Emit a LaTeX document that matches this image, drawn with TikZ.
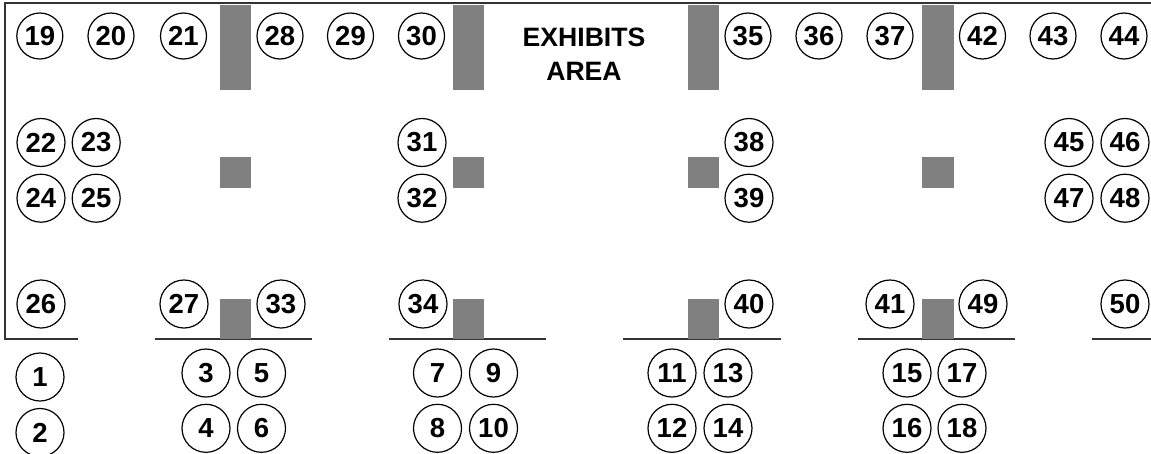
\documentclass[tikz,border=0pt]{standalone}
\usepackage{fontspec}
\setmainfont{Liberation Sans}
\definecolor{pillar}{HTML}{808080}
\definecolor{wall}{HTML}{333333}
\tikzset{
  seat/.style={circle,draw=black,line width=1.2pt,fill=white,minimum size=48pt,inner sep=0pt,font=\fontsize{27.5}{29}\selectfont\bfseries,text=black},
  seatb/.style={seat,minimum size=48pt},
  seatc/.style={seat,minimum size=46pt},
  column/.style={fill=pillar,draw=none},
  wallline/.style={draw=wall,line width=1.3pt},
  caption/.style={font=\fontsize{26.6}{34}\selectfont\bfseries,align=center,text=black}
}
\begin{document}
\begin{tikzpicture}[x=1pt,y=-1pt]
\useasboundingbox (0,0) rectangle (1151,453);
\clip (0,0) rectangle (1151,453);
% walls
\draw[wallline] (1151,3) -- (5,3) -- (5,339) -- (78,339);
\draw[wallline] (155,339) -- (312,339);
\draw[wallline] (389,339) -- (546,339);
\draw[wallline] (623,339) -- (781,339);
\draw[wallline] (858,339) -- (1015,339);
\draw[wallline] (1092,339) -- (1151,339);
% columns
\foreach \l in {219.7,453,687.7,922.3}{
  \fill[column] (\l,5) rectangle (\l+31.4,90);
  \fill[column] (\l,157) rectangle (\l+31.4,188.3);
  \fill[column] (\l,299) rectangle (\l+31.4,338.5);
}
% seats
\foreach \n/\x/\y in {19/39.8/36,20/111/36,21/183.5/36,28/280/36,29/350.5/36,30/421.5/36,35/748/36,36/819/36,37/890/36,42/982.5/36,43/1053/36,44/1124/36}
  \node[seatc] (s\n) at (\x,\y) {\n};
\foreach \n/\x/\y in {22/41/142.5,23/96.2/142.5,24/41/198.2,25/96.2/198.2,31/422/142.5,32/422/198.2,38/749/142.5,39/749/198.2,45/1069/142.5,46/1125/142.5,47/1069/198.2,48/1125/198.2,
  26/41/304,27/184/304,33/281/304,34/423/304,40/749/304,41/890/304,49/983/304,50/1125/304,
  1/40/377,2/40/432.5,3/206/373,4/206/428.3,5/261.5/373,6/261.5/428.3,7/437.5/373,8/437.5/428.3,9/493.5/373,10/493.5/428.3,11/672/373,12/672/428.3,13/728/373,14/728/428.3,15/907/373,16/907/428.3,17/962/373,18/962/428.3}
  \node[seatb] (s\n) at (\x,\y) {\n};
\node[caption] (exhibits) at (584,54) {EXHIBITS\\AREA};
\end{tikzpicture}
\end{document}
